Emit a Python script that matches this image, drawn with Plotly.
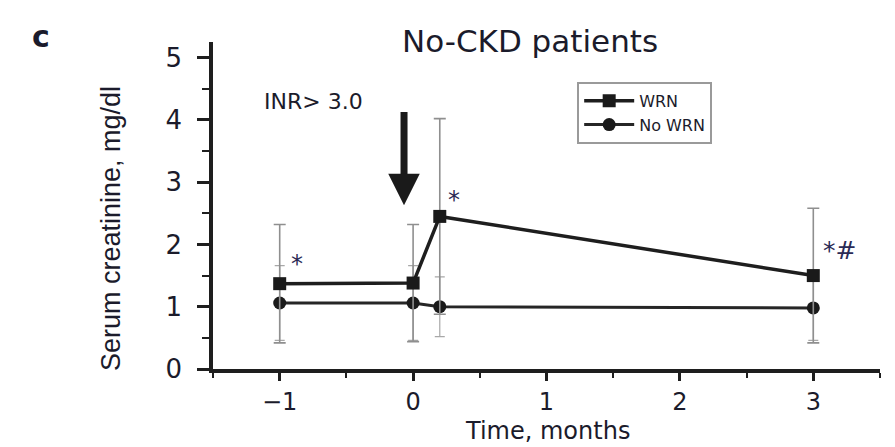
import plotly.graph_objects as go

# Serum creatinine over time, No-CKD patients
time_months = [-1, 0, 0.2, 3]
wrn_mean = [1.37, 1.38, 2.45, 1.50]
wrn_sd = [0.95, 0.94, 1.57, 1.08]
nowrn_mean = [1.06, 1.06, 1.00, 0.98]
nowrn_sd = [0.60, 0.60, 0.48, 0.52]

x_ticks = [-1, 0, 1, 2, 3]
x_tick_labels = ["\u22121", "0", "1", "2", "3"]
y_ticks = [0, 1, 2, 3, 4, 5]

INK = "#1b1b2b"
H_FONT = "DejaVu Sans"
V_FONT = "Liberation Sans"

fig = go.Figure()

fig.add_trace(go.Scatter(
    x=time_months, y=nowrn_mean, name="No WRN", mode="lines+markers",
    line=dict(color="#262626", width=3),
    marker=dict(symbol="circle", size=13, color="#1a1a1a"),
    error_y=dict(type="data", array=nowrn_sd, color="#a8a8a8",
                 thickness=1.2, width=5),
))
fig.add_trace(go.Scatter(
    x=time_months, y=wrn_mean, name="WRN", mode="lines+markers",
    line=dict(color="#1e1e1e", width=3.5),
    marker=dict(symbol="square", size=13, color="#1a1a1a"),
    error_y=dict(type="data", array=wrn_sd, color="#8f8f8f",
                 thickness=1.6, width=6),
))

annotations = [
    dict(text="c", xref="paper", yref="paper", x=-0.275, y=1.075,
         showarrow=False, font=dict(family=H_FONT, size=30, color=INK, weight="bold")),
    dict(text="No-CKD patients", xref="paper", yref="paper", x=0.475, y=1.065,
         showarrow=False, font=dict(family=H_FONT, size=31, color=INK)),
    # axis titles
    dict(text="Time, months", xref="paper", yref="paper", x=0.502, y=-0.19,
         xanchor="center", yanchor="middle", showarrow=False,
         font=dict(family=H_FONT, size=24, color=INK)),
    dict(text="Serum creatinine, mg/dl", xref="paper", yref="paper",
         x=-0.152, y=0.43, textangle=-90,
         xanchor="center", yanchor="middle", showarrow=False,
         font=dict(family=V_FONT, size=27, color=INK)),
    dict(text="INR> 3.0", xref="x", yref="y", x=-0.75, y=4.3,
         showarrow=False, font=dict(family=H_FONT, size=22, color=INK)),
    dict(text="", xref="x", yref="y", x=-0.068, y=2.63,
         axref="x", ayref="y", ax=-0.068, ay=4.15,
         showarrow=True, arrowhead=2, arrowsize=0.9, arrowwidth=7,
         arrowcolor="#1a1a1a"),
    dict(text="*", xref="x", yref="y", x=-0.87, y=1.68,
         showarrow=False, font=dict(family=H_FONT, size=24, color="#2a2a55")),
    dict(text="*", xref="x", yref="y", x=0.31, y=2.72,
         showarrow=False, font=dict(family=H_FONT, size=24, color="#2a2a55")),
    dict(text="*#", xref="x", yref="y", x=3.2, y=1.9,
         showarrow=False, font=dict(family=H_FONT, size=25, color="#2a2a55")),
]

fig.update_layout(
    width=895, height=447,
    margin=dict(l=213, r=15, t=42, b=78),
    paper_bgcolor="white", plot_bgcolor="white",
    showlegend=True,
    legend=dict(
        x=0.546, y=0.878, xanchor="left", yanchor="top",
        traceorder="reversed",
        bgcolor="white", bordercolor="#9a9a9a", borderwidth=2,
        font=dict(family=H_FONT, size=16, color=INK),
        tracegroupgap=0, itemwidth=50,
    ),
    annotations=annotations,
    xaxis=dict(
        range=[-1.5, 3.5], tickvals=x_ticks, ticktext=x_tick_labels,
        automargin=False,
        showgrid=False, zeroline=False,
        showline=True, linewidth=3.5, linecolor="#1e1e1e",
        ticks="outside", ticklen=8, tickwidth=2.5, tickcolor="#1e1e1e",
        minor=dict(dtick=0.5, tick0=0, ticks="outside", ticklen=5,
                   tickwidth=2, tickcolor="#1e1e1e", showgrid=False),
        tickfont=dict(family=H_FONT, size=24, color=INK),
        ticklabelstandoff=0,
    ),
    yaxis=dict(
        range=[0, 5.25], tickvals=y_ticks,
        automargin=False,
        showgrid=False, zeroline=False,
        showline=True, linewidth=3.5, linecolor="#1e1e1e",
        ticks="outside", ticklen=12, tickwidth=2.5, tickcolor="#1e1e1e",
        minor=dict(dtick=0.5, tick0=0, ticks="outside", ticklen=7,
                   tickwidth=2, tickcolor="#1e1e1e", showgrid=False),
        tickfont=dict(family=H_FONT, size=26, color=INK),
        ticklabelstandoff=10,
    ),
)

fig.write_html("out.html")
